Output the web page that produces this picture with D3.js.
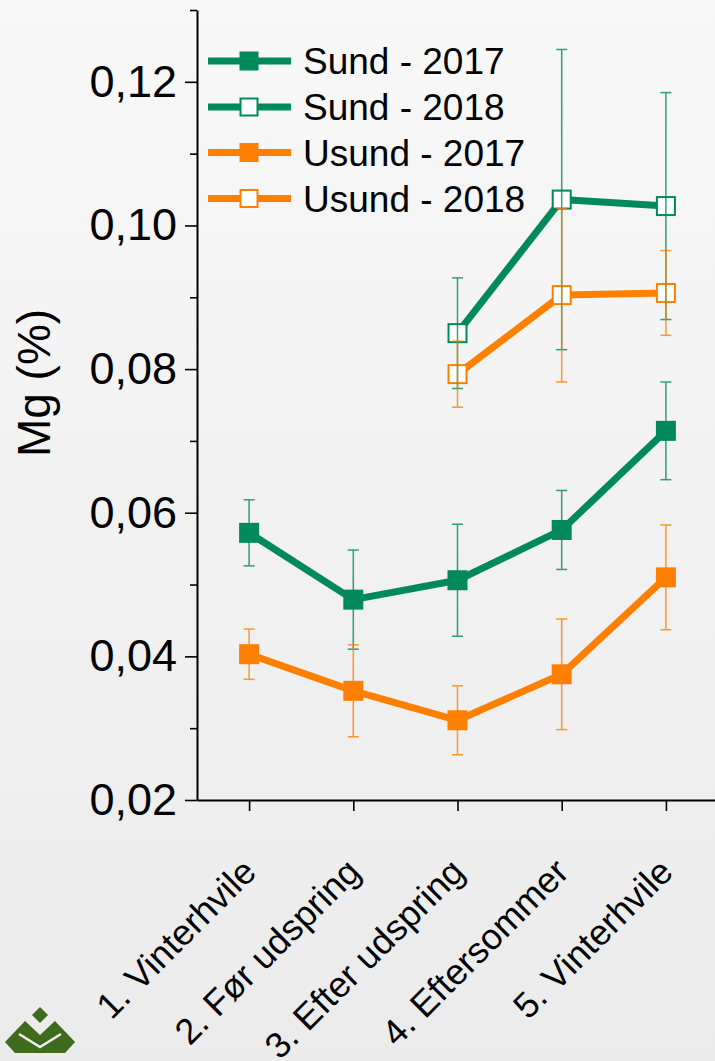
<!DOCTYPE html>
<html>
<head>
<meta charset="utf-8">
<script src="https://cdn.jsdelivr.net/npm/d3@7"></script>
<style>
  html, body { margin: 0; padding: 0; background: #eeeeee; }
  svg { display: block; font-family: "Liberation Sans", Arial, sans-serif; }
</style>
</head>
<body>
<svg id="chart" width="715" height="1061"></svg>
<script>
// Sampling stages
const categories = ["1. Vinterhvile", "2. Før udspring", "3. Efter udspring", "4. Eftersommer", "5. Vinterhvile"];

// Mean Mg (%) and error (±) per stage; 2018 sampling started at stage 3
const sund2017 = [0.0572, 0.0479, 0.0506, 0.0576, 0.0714];
const sund2017Err = [0.0046, 0.0069, 0.0078, 0.0055, 0.0068];
const usund2017 = [0.0403, 0.0352, 0.0311, 0.0375, 0.0510];
const usund2017Err = [0.0035, 0.0064, 0.0048, 0.0077, 0.0073];
const sund2018 = [null, null, 0.0850, 0.1036, 0.1027];
const sund2018Err = [null, null, 0.0077, 0.0209, 0.0158];
const usund2018 = [null, null, 0.0793, 0.0903, 0.0906];
const usund2018Err = [null, null, 0.0046, 0.0121, 0.0059];

const seriesNames = ["Sund - 2017", "Sund - 2018", "Usund - 2017", "Usund - 2018"];
const yTicks = [0.02, 0.04, 0.06, 0.08, 0.10, 0.12];
const yMinorTicks = [0.03, 0.05, 0.07, 0.09, 0.11, 0.13];

const GREEN = "#00895b";
const ORANGE = "#ff8000";

const series = [
  { name: seriesNames[0], values: sund2017, err: sund2017Err, color: GREEN, filled: true },
  { name: seriesNames[1], values: sund2018, err: sund2018Err, color: GREEN, filled: false },
  { name: seriesNames[2], values: usund2017, err: usund2017Err, color: ORANGE, filled: true },
  { name: seriesNames[3], values: usund2018, err: usund2018Err, color: ORANGE, filled: false }
];

const svg = d3.select("#chart");
const W = 715, H = 1061;

// soft vertical background gradient
const defs = svg.append("defs");
const grad = defs.append("linearGradient").attr("id", "bg").attr("x1", 0).attr("y1", 0).attr("x2", 0).attr("y2", 1);
grad.append("stop").attr("offset", "0%").attr("stop-color", "#f8f8f8");
grad.append("stop").attr("offset", "100%").attr("stop-color", "#ebebeb");
svg.append("rect").attr("width", W).attr("height", H).attr("fill", "url(#bg)");

const x = d3.scalePoint().domain(categories).range([197, 718]).padding(0.5);
const y = d3.scaleLinear().domain([0.02, 0.13]).range([800, 10]);

// y axis: major ticks with labels, minor ticks without
const fmt = v => d3.format(".2f")(v).replace(".", ",");
const yAxisG = svg.append("g").attr("transform", "translate(197,0)")
  .call(d3.axisLeft(y).tickValues(yTicks).tickFormat(fmt).tickSize(12).tickSizeOuter(0).tickPadding(8));
yAxisG.select(".domain").attr("stroke", "#000").attr("stroke-width", 2);
yAxisG.selectAll(".tick line").attr("stroke", "#000").attr("stroke-width", 1.6);
yAxisG.selectAll(".tick text").attr("font-size", 45).attr("fill", "#000")
  .attr("font-family", "'Liberation Sans', Arial, sans-serif");

const yMinorG = svg.append("g").attr("transform", "translate(197,0)")
  .call(d3.axisLeft(y).tickValues(yMinorTicks).tickFormat("").tickSize(7).tickSizeOuter(0));
yMinorG.select(".domain").remove();
yMinorG.selectAll(".tick line").attr("stroke", "#000").attr("stroke-width", 1.6);

// x axis
const xAxisG = svg.append("g").attr("transform", "translate(0,800)")
  .call(d3.axisBottom(x).tickSize(11).tickSizeOuter(0).tickFormat(""));
xAxisG.select(".domain").attr("stroke", "#000").attr("stroke-width", 2);
xAxisG.selectAll(".tick line").attr("stroke", "#000").attr("stroke-width", 1.6);

svg.append("g").selectAll("text").data(categories).join("text")
  .attr("transform", d => `translate(${x(d) + 9},874) rotate(-45)`)
  .attr("text-anchor", "end")
  .attr("font-size", 36)
  .attr("fill", "#000")
  .text(d => d);

// y axis title
svg.append("text")
  .attr("transform", "translate(50,383) rotate(-90)")
  .attr("text-anchor", "middle")
  .attr("font-size", 46)
  .attr("fill", "#000")
  .text("Mg (%)");

// series lines
const line = d3.line()
  .defined(d => d.v !== null)
  .x(d => x(d.c))
  .y(d => y(d.v));

const pts = s => categories.map((c, i) => ({ c, v: s.values[i], e: s.err[i] })).filter(d => d.v !== null);

const plot = svg.append("g");
series.forEach(s => {
  plot.append("path")
    .datum(categories.map((c, i) => ({ c, v: s.values[i] })))
    .attr("d", line)
    .attr("fill", "none")
    .attr("stroke", s.color)
    .attr("stroke-width", 7)
    .attr("stroke-linejoin", "round");
});

// markers
const MS = 20;
series.forEach(s => {
  plot.append("g").selectAll("rect").data(pts(s)).join("rect")
    .attr("x", d => x(d.c) - (s.filled ? MS / 2 : MS / 2 - 1))
    .attr("y", d => y(d.v) - (s.filled ? MS / 2 : MS / 2 - 1))
    .attr("width", s.filled ? MS : MS - 2)
    .attr("height", s.filled ? MS : MS - 2)
    .attr("fill", s.filled ? s.color : "#fff")
    .attr("stroke", s.color)
    .attr("stroke-width", s.filled ? 0 : 2);
});

// error bars drawn on top
series.forEach(s => {
  const g = plot.append("g").attr("stroke", s.color).attr("stroke-width", 1.5).attr("opacity", 0.8);
  pts(s).forEach(d => {
    const cx = x(d.c);
    g.append("line").attr("x1", cx).attr("x2", cx).attr("y1", y(d.v + d.e)).attr("y2", y(d.v - d.e));
    g.append("line").attr("x1", cx - 5.5).attr("x2", cx + 5.5).attr("y1", y(d.v + d.e)).attr("y2", y(d.v + d.e));
    g.append("line").attr("x1", cx - 5.5).attr("x2", cx + 5.5).attr("y1", y(d.v - d.e)).attr("y2", y(d.v - d.e));
  });
});

// legend
const legend = svg.append("g");
const rowY = [61, 107, 152.5, 198.5];
series.forEach((s, i) => {
  const r = legend.append("g").attr("transform", `translate(0,${rowY[i]})`);
  r.append("line").attr("x1", 208).attr("x2", 291).attr("y1", 0).attr("y2", 0)
    .attr("stroke", s.color).attr("stroke-width", 7);
  r.append("rect")
    .attr("x", 249 - (s.filled ? 9.5 : 8.5)).attr("y", s.filled ? -9.5 : -8.5)
    .attr("width", s.filled ? 19 : 17).attr("height", s.filled ? 19 : 17)
    .attr("fill", s.filled ? s.color : "#fff")
    .attr("stroke", s.color).attr("stroke-width", s.filled ? 0 : 2);
  r.append("text").attr("x", 303).attr("dy", "0.36em")
    .attr("font-size", 37).attr("fill", "#000").text(s.name);
});

// logo mark in the lower left corner
const logo = svg.append("g").attr("fill", "#3f6b1c");
logo.append("polygon").attr("points", "40,1007 48,1015 40,1023 32,1015");
logo.append("polygon").attr("points", "5,1042 25,1021 40,1035 55,1021 75,1042 65,1053 15,1053");
logo.append("polyline").attr("points", "19,1034 40,1047 61,1034")
  .attr("fill", "none").attr("stroke", "#f0f0f0").attr("stroke-width", 2.5);
</script>
</body>
</html>
